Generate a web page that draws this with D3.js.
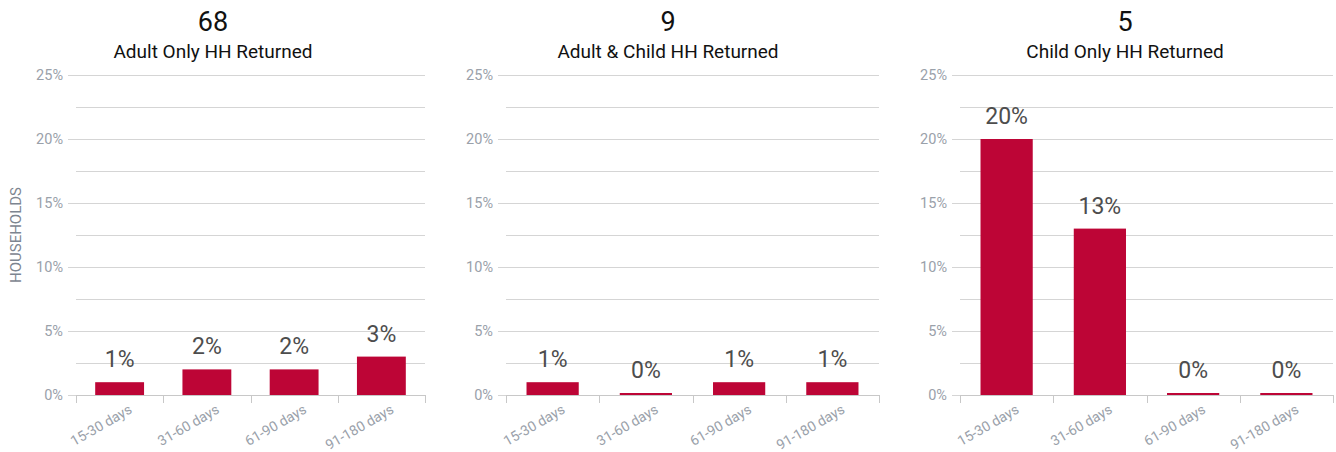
<!DOCTYPE html>
<html><head><meta charset="utf-8">
<script src="https://cdn.jsdelivr.net/npm/d3@7"></script>
<style>
body{margin:0;background:#fff;font-family:Roboto,"Noto Sans",sans-serif;}
</style></head>
<body><svg id="c" width="1336" height="452"></svg>
<script>
const categories = ["15-30 days","31-60 days","61-90 days","91-180 days"];
const panelTotals = ["68","9","5"];
const panelTitles = ["Adult Only HH Returned","Adult & Child HH Returned","Child Only HH Returned"];
const adultOnly = [1,2,2,3];
const adultChild = [1,0,1,1];
const childOnly = [20,13,0,0];
const yTicks = [0,5,10,15,20,25];
const gridTicks = [0,2.5,5,7.5,10,12.5,15,17.5,20,22.5,25];
const yAxisTitle = "HOUSEHOLDS";

(function(){
const series = [adultOnly, adultChild, childOnly];
const panels = [
  {x0:76, x1:425, tc:213},
  {x0:506, x1:879, tc:668},
  {x0:960, x1:1333, tc:1125}
];
const plotTop = 75, plotBottom = 395;
const svg = d3.select("#c");
const y = d3.scaleLinear().domain([0,25]).range([plotBottom, plotTop]);
const barColor = "#bd0536";
const gridColor = "#d5d5d5";
const tickText = "#9aa1aa";

panels.forEach((p, i) => {
  const g = svg.append("g");
  const x = d3.scaleBand().domain(categories).range([p.x0, p.x1]).paddingInner(0.44).paddingOuter(0.22);
  g.selectAll("line.grid").data(gridTicks).join("line")
    .attr("x1", d => (d % 5 === 0 ? p.x0 - 8 : p.x0)).attr("x2", p.x1)
    .attr("y1", d => Math.round(y(d)) + 0.5).attr("y2", d => Math.round(y(d)) + 0.5)
    .attr("stroke", gridColor).attr("stroke-width", 1);
  g.selectAll("text.yl").data(yTicks).join("text")
    .attr("x", p.x0 - 13).attr("y", d => y(d)).attr("dy", "0.35em")
    .attr("text-anchor", "end").attr("fill", tickText).attr("font-size", 14.5)
    .text(d => d + "%");
  const xb = d3.scaleLinear().domain([0,4]).range([p.x0, p.x1]);
  g.append("line").attr("x1", p.x0).attr("x2", p.x1).attr("y1", plotBottom + 0.5).attr("y2", plotBottom + 0.5)
    .attr("stroke", "#c8c8c8");
  g.selectAll("line.xt").data([0,1,2,3,4]).join("line")
    .attr("x1", d => Math.round(xb(d)) + 0.5).attr("x2", d => Math.round(xb(d)) + 0.5)
    .attr("y1", plotBottom).attr("y2", plotBottom + 8)
    .attr("stroke", "#c8c8c8");
  g.selectAll("text.xl").data(categories).join("text")
    .attr("transform", d => `translate(${x(d) + x.bandwidth()/2 + 11},${plotBottom + 13}) rotate(-30)`)
    .attr("text-anchor", "end").attr("dy", "0.35em").attr("fill", tickText).attr("font-size", 14)
    .text(d => d);
  const vals = series[i];
  g.selectAll("rect.bar").data(categories).join("rect")
    .attr("x", d => x(d)).attr("width", x.bandwidth())
    .attr("y", (d, j) => Math.min(y(vals[j]), plotBottom - 2))
    .attr("height", (d, j) => Math.max(plotBottom - y(vals[j]), 2))
    .attr("fill", barColor);
  g.selectAll("text.val").data(categories).join("text")
    .attr("x", d => x(d) + x.bandwidth()/2)
    .attr("y", (d, j) => Math.min(y(vals[j]), plotBottom - 2) - 15)
    .attr("text-anchor", "middle").attr("fill", "#4d4d4d").attr("font-size", 23)
    .text((d, j) => vals[j] + "%");
  g.append("text").attr("x", p.tc).attr("y", 31).attr("text-anchor", "middle")
    .attr("font-size", 27).attr("fill", "#111").text(panelTotals[i]);
  g.append("text").attr("x", p.tc).attr("y", 57.5).attr("text-anchor", "middle")
    .attr("font-size", 19).attr("fill", "#111").text(panelTitles[i]);
});

svg.append("text").attr("transform", `translate(21,${(plotTop+plotBottom)/2}) rotate(-90)`)
  .attr("text-anchor", "middle").attr("fill", "#7d8590").attr("font-size", 15)
  .text(yAxisTitle);
})();
</script></body></html>
